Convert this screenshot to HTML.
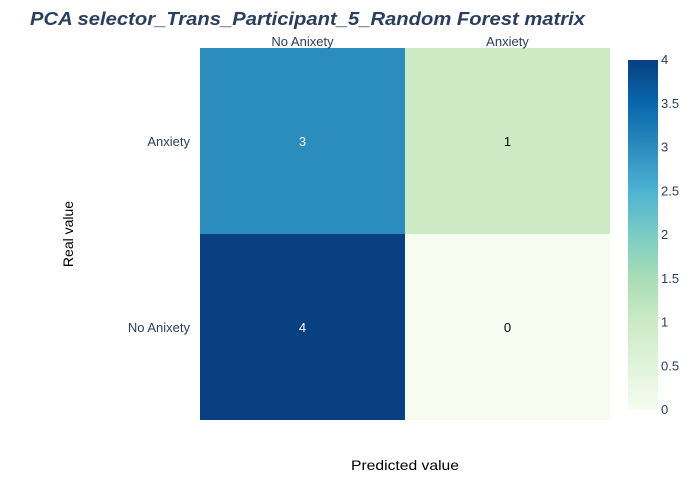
<!DOCTYPE html>
<html><head><meta charset="utf-8"><style>
html,body{margin:0;padding:0;background:#fff;}
svg{display:block;font-family:"Liberation Sans","DejaVu Sans",sans-serif;}
</style></head><body>
<svg id="chart" width="700" height="500">
<defs><linearGradient id="cg" x1="0" y1="1" x2="0" y2="0">
<stop offset="0" stop-color="rgb(247,252,240)"/><stop offset="0.125" stop-color="rgb(224,243,219)"/>
<stop offset="0.25" stop-color="rgb(204,235,197)"/><stop offset="0.375" stop-color="rgb(168,221,181)"/>
<stop offset="0.5" stop-color="rgb(123,204,196)"/><stop offset="0.625" stop-color="rgb(78,179,211)"/>
<stop offset="0.75" stop-color="rgb(43,140,190)"/><stop offset="0.875" stop-color="rgb(8,104,172)"/>
<stop offset="1" stop-color="rgb(8,64,129)"/></linearGradient></defs>
<text x="30" y="25" font-size="18" font-weight="bold" font-style="italic" fill="#2a3f5f" textLength="555" lengthAdjust="spacingAndGlyphs">PCA selector_Trans_Participant_5_Random Forest matrix</text>
<g id="cells"></g>
<rect x="628" y="60" width="30" height="350" fill="url(#cg)"/>
<g id="cbticks"></g>
<text x="351" y="470" font-size="14" fill="#000" textLength="108" lengthAdjust="spacingAndGlyphs">Predicted value</text>
<text transform="translate(73,234) rotate(-90)" font-size="14" text-anchor="middle" fill="#000">Real value</text>
</svg>
<script>
const xCats=["No Anixety","Anxiety"];
const yCats=["No Anixety","Anxiety"];
const zRow0=[4,0];
const zRow1=[3,1];
const cbTicks=[0,0.5,1,1.5,2,2.5,3,3.5,4];
const z=[zRow0,zRow1];
const NS="http://www.w3.org/2000/svg";
const px0=200,px1=610,py0=48,py1=420,zmin=0,zmax=4;
const cw=(px1-px0)/xCats.length,ch=(py1-py0)/yCats.length;
const xPos=i=>px0+i*cw;
const yPos=j=>py1-(j+1)*ch;
const stops=[[247,252,240],[224,243,219],[204,235,197],[168,221,181],[123,204,196],[78,179,211],[43,140,190],[8,104,172],[8,64,129]];
function col(v){let t=(v-zmin)/(zmax-zmin)*8;let i=Math.min(7,Math.floor(t));let f=t-i;
let c=stops[i].map((a,k)=>Math.round(a+(stops[i+1][k]-a)*f));return `rgb(${c})`;}
const g=document.getElementById('cells');
function mk(tag,attrs,txt){const e=document.createElementNS(NS,tag);for(const k in attrs)e.setAttribute(k,attrs[k]);if(txt!=null)e.textContent=txt;return e;}
for(let j=0;j<yCats.length;j++)for(let i=0;i<xCats.length;i++){
const v=z[j][i];
const r=mk('rect',{x:xPos(i),y:yPos(j),width:cw,height:ch,fill:col(v)});


g.appendChild(r);
const t=mk('text',{x:xPos(i)+cw/2,y:yPos(j)+ch/2+5,'font-size':13,'text-anchor':'middle',fill:v>=2?'#fff':'#000'},String(v));


g.appendChild(t);}
for(let i=0;i<xCats.length;i++){const t=mk('text',{x:xPos(i)+cw/2,y:46,'font-size':13,'text-anchor':'middle',fill:'#2a3f5f'},xCats[i]);


g.appendChild(t);}
for(let j=0;j<yCats.length;j++){const t=mk('text',{x:190,y:yPos(j)+ch/2+5,'font-size':13,'text-anchor':'end',fill:'#2a3f5f'},yCats[j]);


g.appendChild(t);}
const cb=document.getElementById('cbticks');
for(const v of cbTicks){const y=410-(v-zmin)/(zmax-zmin)*350;
const t=mk('text',{x:661,y:y+4,'font-size':13,fill:'#2a3f5f'},String(v));


cb.appendChild(t);}
</script>
</body></html>
